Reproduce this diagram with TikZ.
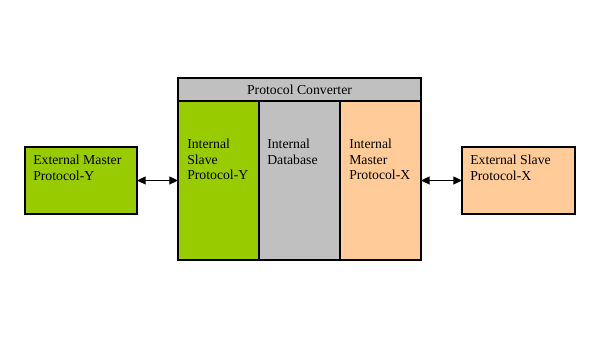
\documentclass[tikz,border=0pt]{standalone}
\usepackage{fontspec}
\setmainfont{Liberation Serif}
\usepackage{tikz}
\usetikzlibrary{arrows.meta,positioning,calc}
\definecolor{pcGreen}{HTML}{99CC00}
\definecolor{pcGray}{HTML}{C0C0C0}
\definecolor{pcPeach}{HTML}{FFCC99}

\begin{document}
\begin{tikzpicture}[x=0.75pt,y=0.75pt,
  font=\fontsize{10.3}{11.6}\selectfont,
  blk/.style={draw, line width=1pt, inner sep=0pt, outer sep=0pt},
  col/.style={blk, minimum width=60.75pt, minimum height=119.25pt},
  side/.style={blk, minimum width=84pt, minimum height=50.25pt},
  txt/.style={anchor=north west, inner sep=0pt, align=left},
  link/.style={{Triangle[length=6.5pt,width=6pt]}-{Triangle[length=6.5pt,width=6pt]}, line width=0.8pt}]
\useasboundingbox (0,0) rectangle (597,346);
% converter
\node[blk, fill=pcGray, minimum width=182.25pt, minimum height=17.25pt] (title) at (299.5,256.5) {Protocol Converter};
\node[col, fill=pcGreen] (isp) at (218.5,165.5) {};
\node[col, fill=pcGray]  (idb) at (299.5,165.5) {};
\node[col, fill=pcPeach] (imp) at (380.5,165.5) {};
\node[txt] (ispT) at ([shift={(9,-38)}]isp.north west) {Internal\\Slave\\Protocol-Y};
\node[txt] (idbT) at ([shift={(8,-38)}]idb.north west) {Internal\\Database};
\node[txt] (impT) at ([shift={(9,-38)}]imp.north west) {Internal\\Master\\Protocol-X};
% external blocks
\node[side, fill=pcGreen] (ems) at (81,165.5) {};
\node[side, fill=pcPeach, minimum width=84.75pt] (ess) at (518.5,165.5) {};
\node[txt] (emsT) at ([shift={(8,-8)}]ems.north west) {External Master\\Protocol-Y};
\node[txt] (essT) at ([shift={(8,-8)}]ess.north west) {External Slave\\Protocol-X};
% links
\draw[link] (ems.east) -- (isp.west);
\draw[link] (imp.east) -- (ess.west);
\end{tikzpicture}
\end{document}
